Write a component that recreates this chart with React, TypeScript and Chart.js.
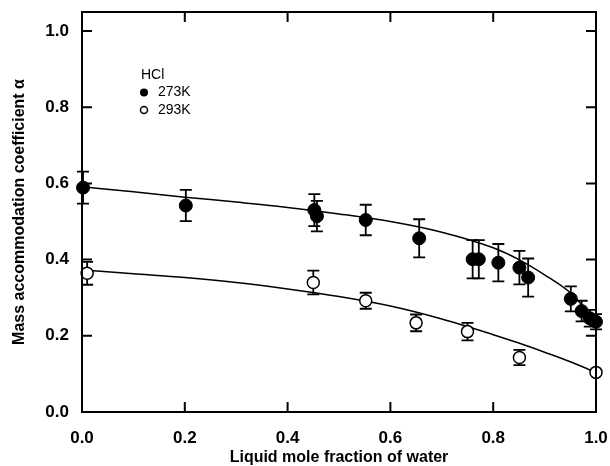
import React, { useEffect, useRef } from "react";
import { Chart, registerables } from "chart.js";

Chart.register(...registerables);

// ---- data ----
const x273 = [0.002, 0.202, 0.452, 0.457, 0.552, 0.656, 0.760, 0.772, 0.810, 0.851, 0.868, 0.951, 0.972, 0.988, 1.0];
const y273 = [0.589, 0.542, 0.530, 0.514, 0.504, 0.456, 0.401, 0.401, 0.392, 0.379, 0.353, 0.297, 0.265, 0.246, 0.237];
const e273 = [0.042, 0.041, 0.042, 0.040, 0.040, 0.050, 0.050, 0.050, 0.049, 0.044, 0.050, 0.033, 0.027, 0.022, 0.020];

const x293 = [0.010, 0.450, 0.552, 0.650, 0.750, 0.851, 1.0];
const y293 = [0.364, 0.340, 0.292, 0.234, 0.211, 0.143, 0.104];
const e293 = [0.030, 0.031, 0.021, 0.022, 0.023, 0.020, 0];

const fitX = [0, 0.1, 0.2, 0.3, 0.4, 0.5, 0.6, 0.7, 0.8, 0.85, 0.9, 0.95, 0.975, 1.0];
const fit273 = [0.591, 0.578, 0.564, 0.551, 0.537, 0.520, 0.500, 0.472, 0.431, 0.400, 0.360, 0.313, 0.277, 0.233];
const fit293 = [0.373, 0.363, 0.353, 0.340, 0.323, 0.303, 0.278, 0.244, 0.203, 0.181, 0.157, 0.132, 0.118, 0.103];

const xTicks = [0, 0.2, 0.4, 0.6, 0.8, 1.0];
const yTicks = [0, 0.2, 0.4, 0.6, 0.8, 1.0];

const legendTitle = "HCl";
const seriesNames = ["273K", "293K"];
const xTitle = "Liquid mole fraction of water";
const yTitle = "Mass accommodation coefficient \u03b1";

const FONT = "'Liberation Sans', Arial, Helvetica, sans-serif";

const errorBarPlugin = {
  id: "errorBars",
  beforeDatasetsDraw(chart: any) {
    const { ctx } = chart;
    const xs = chart.scales.x;
    const ys = chart.scales.y;
    ctx.save();
    ctx.strokeStyle = "#000";
    ctx.lineWidth = 1.8;
    chart.data.datasets.forEach((ds: any) => {
      if (!ds.errors) return;
      ds.data.forEach((p: any, i: number) => {
        const e = ds.errors[i];
        if (!e) return;
        const px = xs.getPixelForValue(p.x);
        const top = ys.getPixelForValue(p.y + e);
        const bot = ys.getPixelForValue(p.y - e);
        const cap = 6;
        ctx.beginPath();
        ctx.moveTo(px, top);
        ctx.lineTo(px, bot);
        ctx.moveTo(px - cap, top);
        ctx.lineTo(px + cap, top);
        ctx.moveTo(px - cap, bot);
        ctx.lineTo(px + cap, bot);
        ctx.stroke();
      });
    });
    ctx.restore();
  },
};

const framePlugin = {
  id: "frame",
  afterDraw(chart: any) {
    const { ctx, chartArea: a } = chart;
    const xs = chart.scales.x;
    const ys = chart.scales.y;
    ctx.save();
    ctx.strokeStyle = "#000";
    ctx.lineWidth = 2;
    ctx.strokeRect(a.left, a.top, a.right - a.left, a.bottom - a.top);
    const tl = 10;
    ctx.beginPath();
    xTicks.forEach((v) => {
      const px = xs.getPixelForValue(v);
      ctx.moveTo(px, a.bottom);
      ctx.lineTo(px, a.bottom - tl);
      ctx.moveTo(px, a.top);
      ctx.lineTo(px, a.top + tl);
    });
    yTicks.forEach((v) => {
      const py = ys.getPixelForValue(v);
      ctx.moveTo(a.left, py);
      ctx.lineTo(a.left + tl, py);
      ctx.moveTo(a.right, py);
      ctx.lineTo(a.right - tl, py);
    });
    ctx.stroke();

    // legend
    const lx = a.left + 59;
    const ly = a.top + 63;
    ctx.fillStyle = "#000";
    ctx.font = `14px ${FONT}`;
    ctx.textBaseline = "middle";
    ctx.textAlign = "left";
    ctx.fillText(legendTitle, lx, ly);
    ctx.beginPath();
    ctx.arc(lx + 3, ly + 17.5, 4, 0, Math.PI * 2);
    ctx.fill();
    ctx.fillText(seriesNames[0], lx + 17, ly + 17.5);
    ctx.beginPath();
    ctx.lineWidth = 1.5;
    ctx.arc(lx + 3, ly + 35, 3.5, 0, Math.PI * 2);
    ctx.stroke();
    ctx.fillText(seriesNames[1], lx + 17, ly + 35);
    ctx.restore();
  },
};

export default function App() {
  const ref = useRef<HTMLCanvasElement | null>(null);
  useEffect(() => {
    if (!ref.current) return;
    const chart = new Chart(ref.current, {
      type: "scatter",
      data: {
        datasets: [
          {
            label: seriesNames[0],
            data: x273.map((x, i) => ({ x, y: y273[i] })),
            errors: e273,
            backgroundColor: "#000",
            borderColor: "#000",
            borderWidth: 1,
            pointRadius: 6.5,
            clip: false,
            order: 0,
          } as any,
          {
            label: seriesNames[1],
            data: x293.map((x, i) => ({ x, y: y293[i] })),
            errors: e293,
            backgroundColor: "#fff",
            borderColor: "#000",
            borderWidth: 1.5,
            pointRadius: 6,
            clip: false,
            order: 0,
          } as any,
          {
            type: "line",
            label: "fit273",
            data: fitX.map((x, i) => ({ x, y: fit273[i] })),
            borderColor: "#000",
            borderWidth: 1.5,
            pointRadius: 0,
            showLine: true,
            fill: false,
            cubicInterpolationMode: "monotone",
            clip: false,
            order: 2,
          } as any,
          {
            type: "line",
            label: "fit293",
            data: fitX.map((x, i) => ({ x, y: fit293[i] })),
            borderColor: "#000",
            borderWidth: 1.5,
            pointRadius: 0,
            showLine: true,
            fill: false,
            cubicInterpolationMode: "monotone",
            clip: false,
            order: 2,
          } as any,
        ],
      },
      options: {
        animation: false,
        responsive: false,
        maintainAspectRatio: false,
        layout: { padding: { left: 0, top: 12, right: 14, bottom: 0 } },
        plugins: { legend: { display: false }, tooltip: { enabled: false } },
        scales: {
          x: {
            type: "linear",
            min: 0,
            max: 1.0,
            grid: { display: false },
            border: { display: false },
            afterBuildTicks: (s: any) => {
              s.ticks = xTicks.map((v) => ({ value: v }));
            },
            afterFit: (s: any) => {
              s.height = 54;
              s.paddingLeft = 0;
              s.paddingRight = 0;
            },
            ticks: {
              padding: 8,
              color: "#000",
              font: { family: FONT, size: 17, weight: "bold" },
              callback: (v: any) => Number(v).toFixed(1),
              maxRotation: 0,
            },
            title: {
              display: true,
              text: xTitle,
              color: "#000",
              padding: { top: 0, bottom: 0 },
              font: { family: FONT, size: 16, weight: "bold", lineHeight: 1.1 },
            },
          },
          y: {
            type: "linear",
            min: 0,
            max: 1.05,
            grid: { display: false },
            border: { display: false },
            afterBuildTicks: (s: any) => {
              s.ticks = yTicks.map((v) => ({ value: v }));
            },
            afterFit: (s: any) => {
              s.width = 82;
              s.paddingTop = 0;
              s.paddingBottom = 0;
            },
            ticks: {
              padding: 5,
              color: "#000",
              font: { family: FONT, size: 17, weight: "bold" },
              callback: (v: any) => Number(v).toFixed(1),
            },
            title: {
              display: true,
              text: yTitle,
              color: "#000",
              padding: { top: 10, bottom: 0 },
              font: { family: FONT, size: 16, weight: "bold" },
            },
          },
        },
      },
      plugins: [errorBarPlugin, framePlugin],
    } as any);
    return () => chart.destroy();
  }, []);
  return (
    <div style={{ position: "absolute", left: 0, top: 0, width: 610, height: 466, background: "#fff" }}>
      <canvas ref={ref} width={610} height={466} style={{ width: 610, height: 466 }} />
    </div>
  );
}
